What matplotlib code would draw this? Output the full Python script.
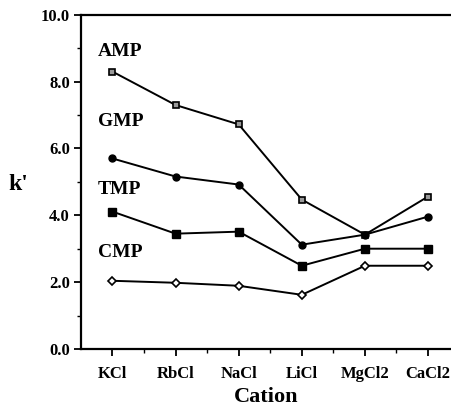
import matplotlib
matplotlib.use("Agg")
import matplotlib.pyplot as plt
from matplotlib.ticker import MultipleLocator

# data
cations = ["KCl", "RbCl", "NaCl", "LiCl", "MgCl2", "CaCl2"]
amp = [8.3, 7.3, 6.72, 4.47, 3.42, 4.56]
gmp = [5.7, 5.16, 4.92, 3.12, 3.42, 3.96]
tmp = [4.11, 3.45, 3.51, 2.49, 3.0, 3.0]
cmp_ = [2.04, 1.98, 1.89, 1.62, 2.49, 2.49]

plt.rcParams['font.family'] = ['Liberation Serif', 'DejaVu Serif']
plt.rcParams['font.weight'] = 'bold'

fig = plt.figure(figsize=(4.52, 4.11), dpi=100)
ax = fig.add_axes([0.179, 0.151, 0.821, 0.813])

x = list(range(1, len(cations) + 1))
ax.plot(x, amp, color='black', lw=1.4, marker='s', ms=5, mfc='0.6', mec='black', mew=1.2)
ax.plot(x, gmp, color='black', lw=1.4, marker='o', ms=5, mfc='black', mec='black')
ax.plot(x, tmp, color='black', lw=1.4, marker='s', ms=5.5, mfc='black', mec='black')
ax.plot(x, cmp_, color='black', lw=1.4, marker='D', ms=4, mfc='white', mec='black', mew=1.2)

# series labels
for name, yy in [("AMP", 8.9), ("GMP", 6.8), ("TMP", 4.76), ("CMP", 2.88)]:
    ax.text(0.77, yy, name, fontsize=14, fontweight='bold', va='center', ha='left')

ax.set_xlim(0.5, 6.38)
ax.set_ylim(0, 10)
ax.set_xticks(x)
ax.set_xticklabels(cations, fontsize=12, fontweight='bold')
ax.set_yticks([0, 2, 4, 6, 8, 10])
ax.set_yticklabels(["0.0", "2.0", "4.0", "6.0", "8.0", "10.0"], fontsize=12, fontweight='bold')
ax.yaxis.set_minor_locator(MultipleLocator(1))
ax.set_xticks([1.5, 2.5, 3.5, 4.5, 5.5], minor=True)
ax.tick_params(which='major', direction='out', length=5, width=1.3)
ax.tick_params(which='minor', direction='out', length=3, width=1.0)
ax.tick_params(axis='x', which='major', pad=7)
ax.tick_params(axis='y', which='major', pad=3)

for side in ['left', 'bottom', 'top']:
    ax.spines[side].set_linewidth(1.6)
ax.spines['right'].set_visible(False)

ax.set_xlabel("Cation", fontsize=16, fontweight='bold', labelpad=4)
fig.text(0.04, 0.55, "k'", fontsize=17, fontweight='bold', va='center', ha='center')

fig.savefig("out.png", dpi=100)
